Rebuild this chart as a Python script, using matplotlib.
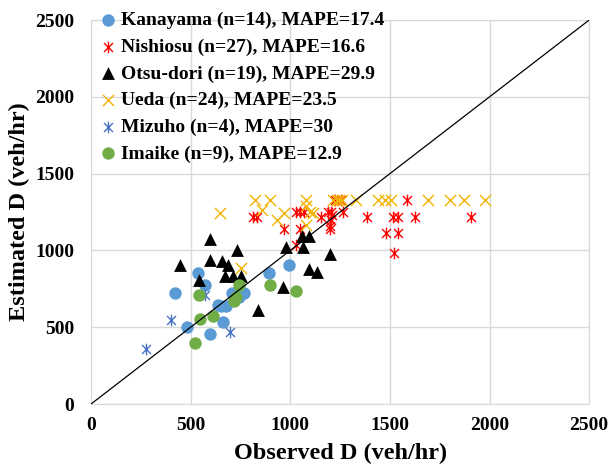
import matplotlib
matplotlib.use("Agg")
import matplotlib.pyplot as plt
from matplotlib.path import Path

plt.rcParams['font.family'] = ['Liberation Serif', 'DejaVu Serif']
plt.rcParams['font.weight'] = 'bold'

# observed / estimated D (veh/hr)
kana_x = [423, 537, 571, 710, 766, 635, 677, 892, 993, 660, 480, 599, 650, 745]
kana_y = [720, 851, 775, 720, 720, 645, 640, 851, 905, 532, 499, 456, 640, 700]

nishi_x = [815, 835, 968, 1030, 1047, 1068, 1047, 1030, 1156, 1203, 1205, 1200, 1200, 1266,
           1222, 1257, 1384, 1515, 1540, 1586, 1624, 1482, 1540, 1522, 1905, 1210, 1190]
nishi_y = [1219, 1219, 1139, 1252, 1252, 1252, 1139, 1035, 1219, 1252, 1198, 1160, 1140, 1252,
           1328, 1328, 1219, 1219, 1219, 1328, 1219, 1111, 1111, 981, 1219, 1230, 1252]

otsu_x = [446, 596, 596, 658, 688, 734, 542, 672, 714, 752, 978, 1060, 1094, 1066, 1197,
          1092, 1136, 966, 840]
otsu_y = [903, 1074, 935, 931, 905, 1005, 807, 833, 833, 833, 1020, 1096, 1096, 1020, 975,
          879, 857, 764, 610]

ueda_x = [646, 825, 897, 859, 934, 971, 1077, 1077, 1115, 1077, 1212, 1235, 1262, 1330,
          1440, 1474, 1508, 1690, 1800, 1872, 1978, 754, 1100, 1245]
ueda_y = [1241, 1328, 1328, 1263, 1198, 1241, 1328, 1290, 1241, 1165, 1328, 1328, 1328, 1328,
          1328, 1328, 1328, 1328, 1328, 1328, 1328, 887, 1252, 1328]

mizu_x = [278, 402, 571, 698]
mizu_y = [358, 547, 710, 467]

imaike_x = [542, 744, 719, 545, 614, 522, 897, 1027, 730]
imaike_y = [710, 775, 670, 551, 575, 399, 772, 733, 700]

labels = ['Kanayama (n=14), MAPE=17.4', 'Nishiosu (n=27), MAPE=16.6',
          'Otsu-dori (n=19), MAPE=29.9', 'Ueda (n=24), MAPE=23.5',
          'Mizuho (n=4), MAPE=30', 'Imaike (n=9), MAPE=12.9']

# excel style star: x plus a vertical stroke
star = Path([(-1, -1), (1, 1), (-1, 1), (1, -1), (0, -1.3), (0, 1.3)],
            [Path.MOVETO, Path.LINETO, Path.MOVETO, Path.LINETO, Path.MOVETO, Path.LINETO])

fig = plt.figure(figsize=(6.08, 4.66), dpi=100)
ax = fig.add_axes([0.1497, 0.133, 0.8193, 0.824])

ax.scatter(kana_x, kana_y, s=80, marker='o', color='#5B9BD5', linewidths=0, label=labels[0], zorder=3)
ax.scatter(nishi_x, nishi_y, s=70, marker=star, color='#FF0000', linewidths=1.0, label=labels[1], zorder=3)
ax.scatter(otsu_x, otsu_y, s=85, marker='^', color='black', linewidths=0, label=labels[2], zorder=3)
ax.scatter(ueda_x, ueda_y, s=65, marker='x', color='#F2B400', linewidths=1.0, label=labels[3], zorder=3)
ax.scatter(mizu_x, mizu_y, s=70, marker=star, color='#4472C4', linewidths=1.0, label=labels[4], zorder=3)
ax.scatter(imaike_x, imaike_y, s=80, marker='o', color='#70AD47', linewidths=0, label=labels[5], zorder=3)

ax.plot([0, 2500], [0, 2500], color='black', lw=0.9, zorder=4)

ax.set_xlim(0, 2500)
ax.set_ylim(0, 2500)
ax.set_xticks(range(0, 2501, 500))
ax.set_yticks(range(0, 2501, 500))
ax.grid(True, color='#D9D9D9', lw=1.0, zorder=0)
ax.set_axisbelow(True)
for s in ax.spines.values():
    s.set_color('#D9D9D9')
ax.tick_params(length=0, labelsize=14, pad=9)
ax.tick_params(axis='y', pad=12)
for t in ax.get_xticklabels() + ax.get_yticklabels():
    t.set_fontweight('bold')

ax.set_xlabel('Observed D (veh/hr)', fontsize=17.5, fontweight='bold', labelpad=7)
ax.set_ylabel('Estimated D (veh/hr)', fontsize=17.5, fontweight='bold', labelpad=4)

leg = ax.legend(loc='upper left', bbox_to_anchor=(-0.012, 1.052), frameon=False,
                prop={'size': 14, 'weight': 'bold'}, handletextpad=0.05,
                labelspacing=0.46, borderaxespad=0.2, handlelength=1.2)

fig.savefig('out.png', dpi=100)
